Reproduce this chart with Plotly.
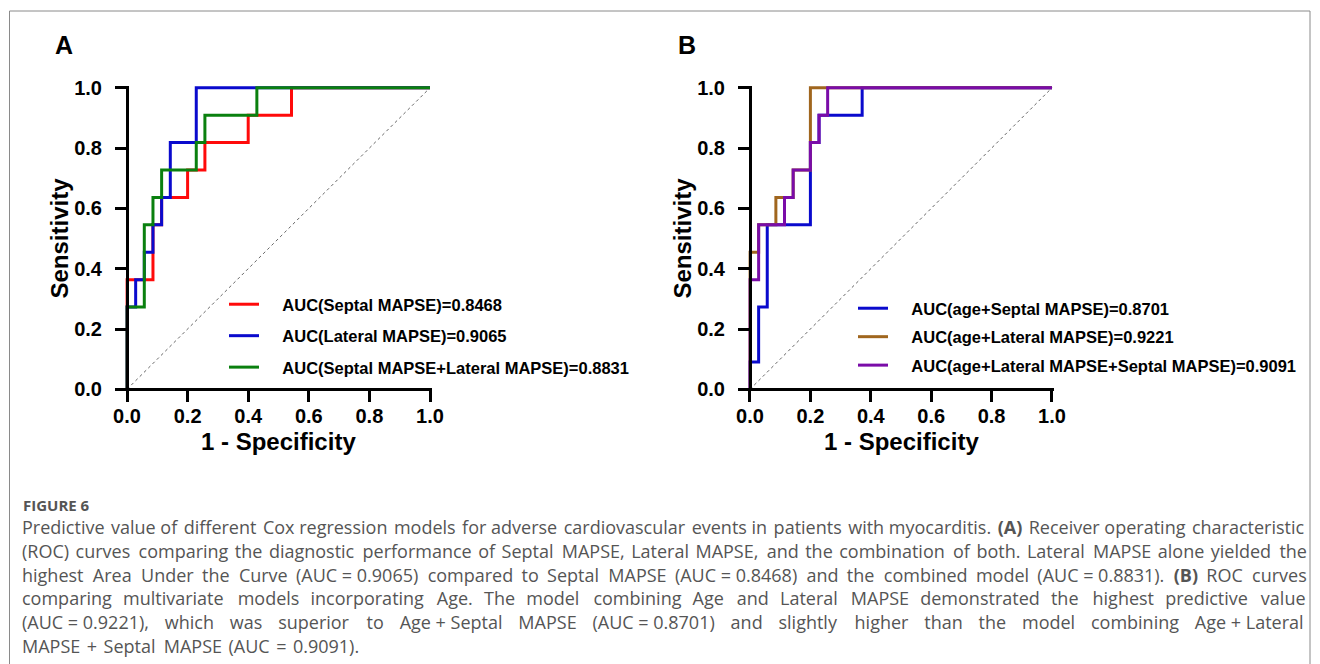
import plotly.graph_objects as go

W, H = 1320, 664

# ---------------- data ----------------
# Panel A ROC points (1 - specificity, sensitivity)
a_septal_fpr = [0, 0, 0.0857, 0.1143, 0.2000, 0.2571, 0.4000, 0.5429, 1]
a_septal_tpr = [0, 0.3636, 0.5455, 0.6364, 0.7273, 0.8182, 0.9091, 1, 1]
a_lateral_fpr = [0, 0, 0.0286, 0.0571, 0.0857, 0.1143, 0.1429, 0.2286, 1]
a_lateral_tpr = [0, 0.2727, 0.3636, 0.4545, 0.5455, 0.6364, 0.8182, 1, 1]
a_combo_fpr = [0, 0, 0.0571, 0.0857, 0.1143, 0.2286, 0.2571, 0.4286, 1]
a_combo_tpr = [0, 0.2727, 0.5455, 0.6364, 0.7273, 0.8182, 0.9091, 1, 1]

# Panel B ROC points
b_age_septal_fpr = [0, 0, 0.0286, 0.0571, 0.2000, 0.2286, 0.3714, 1]
b_age_septal_tpr = [0, 0.0909, 0.2727, 0.5455, 0.8182, 0.9091, 1, 1]
b_age_lateral_fpr = [0, 0, 0.0286, 0.0857, 0.1429, 0.2000, 1]
b_age_lateral_tpr = [0, 0.4545, 0.5455, 0.6364, 0.7273, 1, 1]
b_age_all_fpr = [0, 0, 0.0286, 0.1143, 0.1429, 0.2000, 0.2286, 0.2571, 1]
b_age_all_tpr = [0, 0.3636, 0.5455, 0.6364, 0.7273, 0.8182, 0.9091, 1, 1]

ref_line = [0, 1]

names_a = ["AUC(Septal MAPSE)=0.8468", "AUC(Lateral MAPSE)=0.9065",
           "AUC(Septal MAPSE+Lateral MAPSE)=0.8831"]
names_b = ["AUC(age+Septal MAPSE)=0.8701", "AUC(age+Lateral MAPSE)=0.9221",
           "AUC(age+Lateral MAPSE+Septal MAPSE)=0.9091"]

tick_vals = [0, 0.2, 0.4, 0.6, 0.8, 1.0]
tick_text = ["0.0", "0.2", "0.4", "0.6", "0.8", "1.0"]

panel_labels = ["A", "B"]
x_title = "1 - Specificity"
y_title = "Sensitivity"
figure_label = "FIGURE 6"

# caption, one list of word groups per printed line
caption_units = [
    ["Predictive", "value", "of", "different", "Cox", "regression", "models", "for", "adverse",
     "cardiovascular", "events", "in", "patients", "with", "myocarditis.", "<b>(A)</b>",
     "Receiver", "operating", "characteristic"],
    ["(ROC)", "curves", "comparing", "the", "diagnostic", "performance", "of", "Septal", "MAPSE,",
     "Lateral", "MAPSE,", "and", "the", "combination", "of", "both.", "Lateral", "MAPSE", "alone",
     "yielded", "the"],
    ["highest", "Area", "Under", "the", "Curve", "(AUC = 0.9065)", "compared", "to", "Septal",
     "MAPSE", "(AUC = 0.8468)", "and", "the", "combined", "model", "(AUC = 0.8831).", "<b>(B)</b>",
     "ROC", "curves"],
    ["comparing", "multivariate", "models", "incorporating", "Age.", "The", "model", "combining",
     "Age", "and", "Lateral", "MAPSE", "demonstrated", "the", "highest", "predictive", "value"],
    ["(AUC = 0.9221),", "which", "was", "superior", "to", "Age + Septal", "MAPSE",
     "(AUC = 0.8701)", "and", "slightly", "higher", "than", "the", "model", "combining",
     "Age + Lateral"],
    ["MAPSE", "+", "Septal", "MAPSE", "(AUC", "=", "0.9091)."],
]

# ---------------- styling ----------------
FONT = "Arial, Liberation Sans, sans-serif"
CAP_FONT = "Open Sans"
colors_a = ["#FF0A0A", "#0A0ACD", "#0A800F"]
colors_b = ["#0A0ACD", "#A0661E", "#7A0CA8"]
PAD = 0.006
NB = "\u00a0"
HAIR = "\u200a"
NB_PX, HAIR_PX = 4.68, 2.0
# extra px per caption line to imitate the justified text block
justify_extra = [24, 53, 77, 122, 175, 14]

fig = go.Figure()


def add_panel(xa, ya, legend, fprs, tprs, names, colors):
    fig.add_trace(go.Scatter(x=ref_line, y=ref_line, mode="lines",
                             line=dict(color="#666666", width=1, dash="dot"),
                             showlegend=False, hoverinfo="skip",
                             xaxis=xa, yaxis=ya))
    for i, (fx, ty, nm, c) in enumerate(zip(fprs, tprs, names, colors)):
        fig.add_trace(go.Scatter(x=fx, y=ty, mode="lines", name=NB * 4 + nm,
                                 line=dict(color=c, width=3, shape="hv"),
                                 legend=legend, legendgroup=f"{legend}{i}",
                                 xaxis=xa, yaxis=ya))


add_panel("x", "y", "legend",
          [a_septal_fpr, a_lateral_fpr, a_combo_fpr],
          [a_septal_tpr, a_lateral_tpr, a_combo_tpr], names_a, colors_a)
add_panel("x2", "y2", "legend2",
          [b_age_septal_fpr, b_age_lateral_fpr, b_age_all_fpr],
          [b_age_septal_tpr, b_age_lateral_tpr, b_age_all_tpr], names_b, colors_b)

# pixel geometry of the two plot areas
y0_px, y1_px = 389.3, 87.8
panels = [(127.0, 430.0), (750.0, 1052.0)]


def xdom(x0, x1):
    s = x1 - x0
    return [(x0 - PAD * s) / W, (x1 + PAD * s) / W]


s_y = y0_px - y1_px
ydom = [(H - (y0_px + PAD * s_y)) / H, (H - (y1_px - PAD * s_y)) / H]

axis_common = dict(range=[-PAD, 1 + PAD], showgrid=False, zeroline=False,
                   showline=True, linecolor="black", linewidth=3,
                   ticks="outside", ticklen=11, tickwidth=3, tickcolor="black",
                   tickvals=tick_vals, ticktext=tick_text,
                   tickfont=dict(family=FONT, size=20, color="black", weight="bold"),
                   anchor="free", automargin=False)

for k, key in enumerate(["", "2"]):
    x0, x1 = panels[k]
    fig.layout["xaxis" + key] = dict(axis_common, domain=xdom(x0, x1),
                                     position=(H - y0_px) / H, ticklabelstandoff=-3)
    fig.layout["yaxis" + key] = dict(axis_common, domain=ydom,
                                     position=x0 / W, ticklabelstandoff=9)

leg_common = dict(bgcolor="rgba(0,0,0,0)", borderwidth=0,
                  font=dict(family=FONT, size=16.5, color="black", weight="bold"),
                  xanchor="left", yanchor="top", itemwidth=30,
                  itemclick=False, itemdoubleclick=False)
fig.update_layout(
    width=W, height=H,
    margin=dict(l=0, r=0, t=0, b=0, pad=0, autoexpand=False),
    paper_bgcolor="white", plot_bgcolor="rgba(0,0,0,0)",
    showlegend=True,
    legend=dict(leg_common, x=224 / W, y=1 - 287 / H, tracegroupgap=7),
    legend2=dict(leg_common, x=853 / W, y=1 - 291 / H, tracegroupgap=4),
)

title_font = dict(family=FONT, size=24, color="black", weight="bold")
annotations = []
for k, (x0, x1) in enumerate(panels):
    annotations.append(dict(text=panel_labels[k], x=(x0 - 63) / W, y=1 - 45 / H,
                            font=dict(family=FONT, size=25, color="black", weight="bold")))
    annotations.append(dict(text=x_title, x=(x0 + x1) / 2 / W, y=1 - 441 / H, font=title_font))
    annotations.append(dict(text=y_title, x=(x0 - 67) / W, y=1 - (y0_px + y1_px) / 2 / H,
                            textangle=-90, font=title_font))

annotations.append(dict(text=figure_label, x=21 / W, y=1 - 505 / H, xanchor="left",
                        font=dict(family=CAP_FONT, size=15, color="#555555", weight="bold")))


def justify(units, extra):
    n = len(units) - 1
    out, done = [units[0]], 0.0
    for j, u in enumerate(units[1:]):
        want = extra * (j + 1) / n - done
        sep = " "
        while want >= NB_PX * 0.75:
            sep += NB
            want -= NB_PX
            done += NB_PX
        while want >= HAIR_PX * 0.5:
            sep += HAIR
            want -= HAIR_PX
            done += HAIR_PX
        out.append(sep + u)
    return "".join(out)


for i, units in enumerate(caption_units):
    line = justify(units, justify_extra[i])
    annotations.append(dict(text=line, x=20 / W, y=1 - (527 + 23.8 * i) / H, xanchor="left",
                            font=dict(family=CAP_FONT, size=18, color="#555555")))
for a in annotations:
    a.update(xref="paper", yref="paper", showarrow=False)
    a.setdefault("xanchor", "center")
    a.setdefault("yanchor", "middle")
fig.update_layout(annotations=annotations)

fig.add_shape(type="rect", xref="paper", yref="paper",
              x0=9.5 / W, x1=1310 / W, y0=-0.2, y1=1 - 11 / H,
              line=dict(color="#8a8a8a", width=1), fillcolor="rgba(0,0,0,0)", layer="below")

fig.write_html("out.html", config={"displayModeBar": False},
               post_script="document.body.style.margin='0';document.body.style.overflow='hidden';")
